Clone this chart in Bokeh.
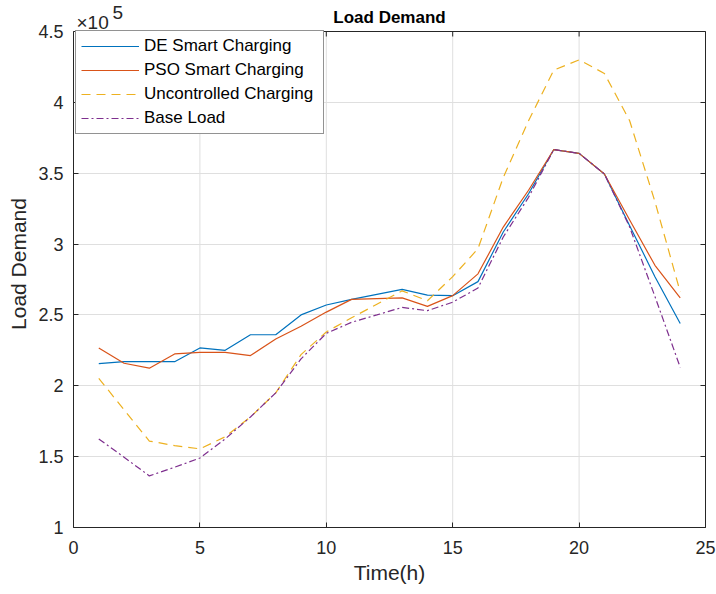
from math import pi
from bokeh.plotting import figure
from bokeh.models import (LinearAxis, FixedTicker, CustomJSTickFormatter, Label,
                          Legend, LegendItem, Range1d, Span)
from bokeh.embed import file_html
from bokeh.resources import INLINE

# ---------------- data ----------------
hours = list(range(1, 25))
de_smart = [215700, 217000, 217000, 217000, 226700, 225000, 236000, 236000,
            250000, 257000, 261000, 264500, 268000, 264000, 263600, 273500,
            308500, 335500, 366700, 364000, 349500, 313000, 277000, 244000]
pso_smart = [226700, 215900, 212400, 222500, 223600, 223600, 221300, 233000,
             242000, 252000, 261000, 261500, 262000, 256000, 263600, 279000,
             312000, 338000, 366700, 364000, 349500, 317000, 285000, 262000]
uncontrolled = [205300, 183000, 161000, 157800, 155500, 164000, 178000, 195000,
                222000, 238000, 248000, 257500, 267000, 260000, 277000, 296700,
                347000, 387000, 422800, 430000, 420400, 387000, 330000, 266200]
base_load = [162500, 149600, 136400, 142500, 149000, 162500, 178000, 195000,
             219000, 237000, 244800, 250000, 255300, 253000, 259000, 269000,
             305000, 333000, 366700, 364000, 349500, 312000, 263000, 213000]
series_names = ["DE Smart Charging", "PSO Smart Charging",
                "Uncontrolled Charging", "Base Load"]
x_ticks = [0, 5, 10, 15, 20, 25]
y_ticks = [100000, 150000, 200000, 250000, 300000, 350000, 400000, 450000]
title_text = "Load Demand"
exp_base, exp_power = "×10", "5"

FONT = "Liberation Sans"
TXT = "#262626"
GRID = "#dfdfdf"

# the frame reaches to the top of the canvas so that the title and the
# exponent (drawn as labels) sit inside it; the axes box is drawn separately
BOX_H, FRAME_H = 496, 527
y0, y1 = y_ticks[0], y_ticks[-1]
y_top = y0 + (y1 - y0) * FRAME_H / BOX_H

p = figure(frame_width=632, frame_height=FRAME_H, output_backend="svg",
           toolbar_location=None, title=None,
           x_range=Range1d(x_ticks[0], x_ticks[-1]),
           y_range=Range1d(y0, y_top),
           min_border_left=73, min_border_top=0, min_border_bottom=67,
           min_border_right=11, background_fill_color="white",
           border_fill_color="white")
p.outline_line_color = None

# vertical grid lines, limited to the axes box
n = len(x_ticks)
g = p.segment(x0=x_ticks, y0=[y0] * n, x1=x_ticks, y1=[y1] * n,
              line_color=GRID, line_width=1)
g.level = "underlay"
p.xgrid.visible = False
p.ygrid.ticker = FixedTicker(ticks=y_ticks)
p.ygrid.grid_line_color = GRID

colors = ["#0072BD", "#D95319", "#EDB120", "#7E2F8E"]
dashes = ["solid", "solid", "9 6", "7 3 2 3"]
data = [de_smart, pso_smart, uncontrolled, base_load]
renderers = []
for ys, c, d in zip(data, colors, dashes):
    r = p.line(hours, ys, line_color=c, line_width=1.2, line_dash=d)
    renderers.append(r)

fmt = CustomJSTickFormatter(code="return (tick/100000).toString();")
blank = CustomJSTickFormatter(code="return '';")

for ax in p.xaxis + p.yaxis:
    ax.major_tick_in = 5
    ax.major_tick_out = 0
    ax.minor_tick_line_color = None
    ax.axis_line_color = TXT
    ax.major_tick_line_color = TXT
    ax.major_label_text_font = FONT
    ax.major_label_text_font_size = "18px"
    ax.major_label_text_color = TXT
    ax.axis_label_text_font = FONT
    ax.axis_label_text_font_size = "21px"
    ax.axis_label_text_font_style = "normal"
    ax.axis_label_text_color = TXT

p.xaxis.ticker = FixedTicker(ticks=x_ticks)
p.yaxis.ticker = FixedTicker(ticks=y_ticks)
p.yaxis.bounds = (y0, y1)
p.yaxis.formatter = fmt
p.xaxis.axis_label = "Time(h)"
p.yaxis.axis_label = "Load Demand"
p.xaxis.major_label_standoff = 13
p.yaxis.major_label_standoff = 10
p.xaxis.axis_label_standoff = 4
p.yaxis.axis_label_standoff = 5

# right edge of the box with inward ticks
right = LinearAxis(ticker=FixedTicker(ticks=y_ticks), formatter=blank,
                   bounds=(y0, y1))
right.major_tick_in = 5
right.major_tick_out = 0
right.minor_tick_line_color = None
right.axis_line_color = TXT
right.major_tick_line_color = TXT
right.major_label_text_font_size = "2px"
right.major_label_standoff = 0
p.add_layout(right, "right")

# top edge of the box with inward ticks
p.add_layout(Span(location=y1, dimension="width", line_color=TXT,
                  line_width=1))
p.ray(x=x_ticks, y=[y1] * n, length=5, length_units="screen",
      angle=-pi / 2, line_color=TXT, line_width=1)

# title and exponent
p.add_layout(Label(x=(x_ticks[0] + x_ticks[-1]) / 2, y=y1, x_units="data",
                   y_units="data", y_offset=14, text=title_text,
                   text_align="center", text_baseline="alphabetic",
                   text_font=FONT, text_font_size="17px",
                   text_font_style="bold", text_color="black"))
p.add_layout(Label(x=x_ticks[0], y=y1, x_units="data", y_units="data",
                   x_offset=3, y_offset=9, text=exp_base,
                   text_baseline="alphabetic", text_font=FONT,
                   text_font_size="19px", text_color=TXT))
p.add_layout(Label(x=x_ticks[0], y=y1, x_units="data", y_units="data",
                   x_offset=39, y_offset=19, text=exp_power,
                   text_baseline="alphabetic", text_font=FONT,
                   text_font_size="19px", text_color=TXT))

legend = Legend(items=[LegendItem(label=nm, renderers=[r])
                       for nm, r in zip(series_names, renderers)],
                location=(2, 393))
legend.label_text_font = FONT
legend.label_text_font_size = "17px"
legend.label_text_color = "black"
legend.glyph_width = 58
legend.glyph_height = 20
legend.label_height = 20
legend.label_width = 174
legend.label_standoff = 5
legend.spacing = 4
legend.padding = 5
legend.margin = 0
legend.border_line_color = TXT
legend.border_line_width = 1
legend.background_fill_alpha = 1
p.add_layout(legend)

open("out.html", "w").write(file_html(p, INLINE))
